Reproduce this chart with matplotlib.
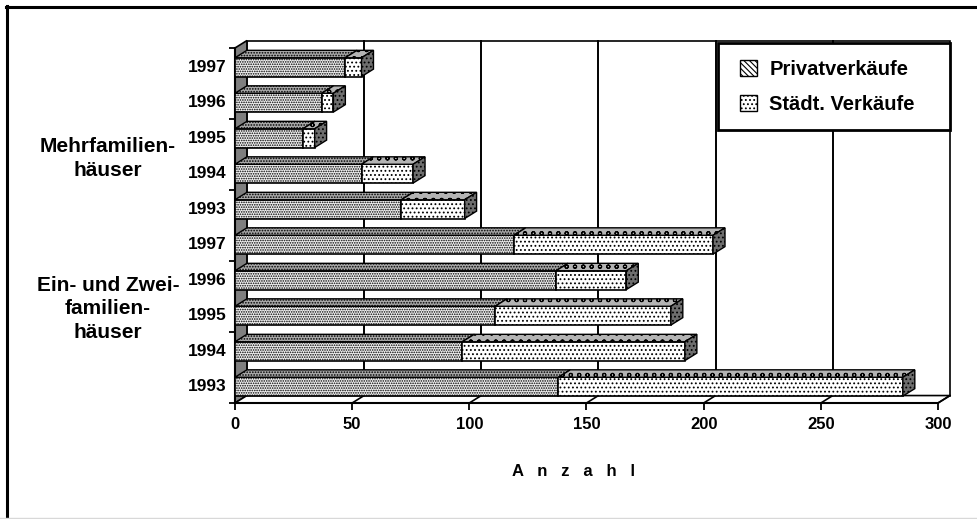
import numpy as np
import matplotlib.pyplot as plt
from matplotlib.patches import Polygon, Rectangle, Patch
from matplotlib.lines import Line2D

plt.rcParams['font.family'] = ['Liberation Sans', 'DejaVu Sans']
plt.rcParams['font.weight'] = 'bold'
plt.rcParams['hatch.linewidth'] = 0.8

jahre = ['1993', '1994', '1995', '1996', '1997']
efh_privat = [138, 97, 111, 137, 119]
efh_staedt = [147, 95, 75, 30, 85]
mfh_privat = [71, 54, 29, 37, 47]
mfh_staedt = [27, 22, 5, 5, 7]
gruppen = ['Ein- und Zwei-\nfamilien-\nhäuser', 'Mehrfamilien-\nhäuser']
serien = ['Privatverkäufe', 'Städt. Verkäufe']
x_ticks = [0, 50, 100, 150, 200, 250, 300]

privat = efh_privat + mfh_privat
staedt = efh_staedt + mfh_staedt
labels = jahre + jahre
pos = np.arange(len(labels))

fig = plt.figure(figsize=(9.77, 5.19), dpi=100)
ax = fig.add_axes([0.2405, 0.2235, 0.7196, 0.684])
ax.set_xlim(0, 300)
ax.set_ylim(-0.5, 9.5)
ax.patch.set_visible(False)

# Tiefe der 3D-Box in Dateneinheiten
dx, dy = 5.1, 0.21
y0, y1 = -0.5, 9.5
xmax = x_ticks[-1]

# Rueckwand, linke Wand, Boden
ax.add_patch(Rectangle((dx, y0 + dy), xmax, y1 - y0, fc='white', ec='black',
                       lw=1.2, clip_on=False, zorder=0.5))
ax.add_patch(Polygon([(0, y0), (dx, y0 + dy), (dx, y1 + dy), (0, y1)],
                     fc='#7f7f7f', ec='black', lw=1.2, clip_on=False, zorder=1))
ax.add_patch(Polygon([(0, y0), (xmax, y0), (xmax + dx, y0 + dy), (dx, y0 + dy)],
                     fc='white', ec='black', lw=1.2, clip_on=False, zorder=1))
for v in x_ticks[1:-1]:
    ax.plot([v + dx, v + dx], [y0 + dy, y1 + dy], color='black', lw=1.4,
            zorder=0.8, clip_on=False)
for v in x_ticks[1:]:
    ax.plot([v, v + dx], [y0, y0 + dy], color='black', lw=1.2,
            zorder=1.2, clip_on=False)

# Balken: Vorderseite, Oberseite, Stirnseite
h = 0.53
yc = pos - 0.04
ax.barh(yc, privat, height=h, color='#f0f0f0', edgecolor='black', lw=1.2,
        hatch='.......', zorder=3)
ax.barh(yc, staedt, left=privat, height=h, color='white', edgecolor='black',
        lw=1.2, hatch='....', zorder=3)
for i in range(len(pos)):
    p, s = privat[i], staedt[i]
    t, b = yc[i] + h / 2, yc[i] - h / 2
    ax.add_patch(Polygon([(0, t), (p, t), (p + dx, t + dy), (dx, t + dy)],
                         fc='#a8a8a8', ec='black', lw=1.0, hatch='......',
                         zorder=3, clip_on=False))
    ax.add_patch(Polygon([(p, t), (p + s, t), (p + s + dx, t + dy), (p + dx, t + dy)],
                         fc='#b4b4b4', ec='black', lw=1.0, hatch='oo',
                         zorder=3, clip_on=False))
    ax.add_patch(Polygon([(p + s, b), (p + s + dx, b + dy), (p + s + dx, t + dy), (p + s, t)],
                         fc='#6e6e6e', ec='black', lw=1.0, hatch='....',
                         zorder=3, clip_on=False))

# Achsen
for side in ['top', 'right']:
    ax.spines[side].set_visible(False)
for side in ['bottom', 'left']:
    ax.spines[side].set_linewidth(1.5)
ax.set_xticks(x_ticks)
ax.tick_params(axis='x', direction='out', length=5, width=1.3, pad=5, labelsize=12)
ax.set_yticks(np.arange(y0, y1 + 0.1, 2), [''] * 6)
ax.set_yticks(pos, labels, minor=True)
ax.tick_params(axis='y', which='major', direction='out', length=4.5, width=1.3)
ax.tick_params(axis='y', which='minor', length=0, pad=6, labelsize=12.5)

fig.text(573 / 977, 1 - 472 / 519, 'A   n   z   a   h   l', ha='center', va='center',
         fontsize=12)
fig.text(108 / 977, 1 - 158.5 / 519, gruppen[1], ha='center', va='center',
         fontsize=15, linespacing=1.3)
fig.text(108 / 977, 1 - 309 / 519, gruppen[0], ha='center', va='center',
         fontsize=15, linespacing=1.3)

# Legende mit eigenem Rahmen
fig.add_artist(Rectangle((718 / 977, 1 - 130 / 519), 232 / 977, 87.3 / 519,
                         transform=fig.transFigure, fc='white', ec='black',
                         lw=2, zorder=4.5))
handles = [Patch(fc='white', ec='black', hatch='\\\\\\\\\\\\', label=serien[0]),
           Patch(fc='white', ec='black', hatch='....', label=serien[1])]
fig.legend(handles=handles, loc='center left', bbox_to_anchor=(740 / 977, 1 - 87 / 519),
           frameon=False, fontsize=14.5, handlelength=0.85, handleheight=0.85,
           handletextpad=0.6, labelspacing=0.8, borderpad=0, borderaxespad=0)

# Rahmen um die Grafik
fig.add_artist(Line2D([6.5 / 977, 6.5 / 977], [0, 1 - 6 / 519], transform=fig.transFigure,
                      color='black', lw=2.2))
fig.add_artist(Line2D([6 / 977, 1], [1 - 6.5 / 519, 1 - 6.5 / 519], transform=fig.transFigure,
                      color='black', lw=2.2))
fig.add_artist(Line2D([0, 1], [1.5 / 519, 1.5 / 519], transform=fig.transFigure,
                      color='#d8d8d8', lw=1))

fig.savefig('out.png', dpi=100)
